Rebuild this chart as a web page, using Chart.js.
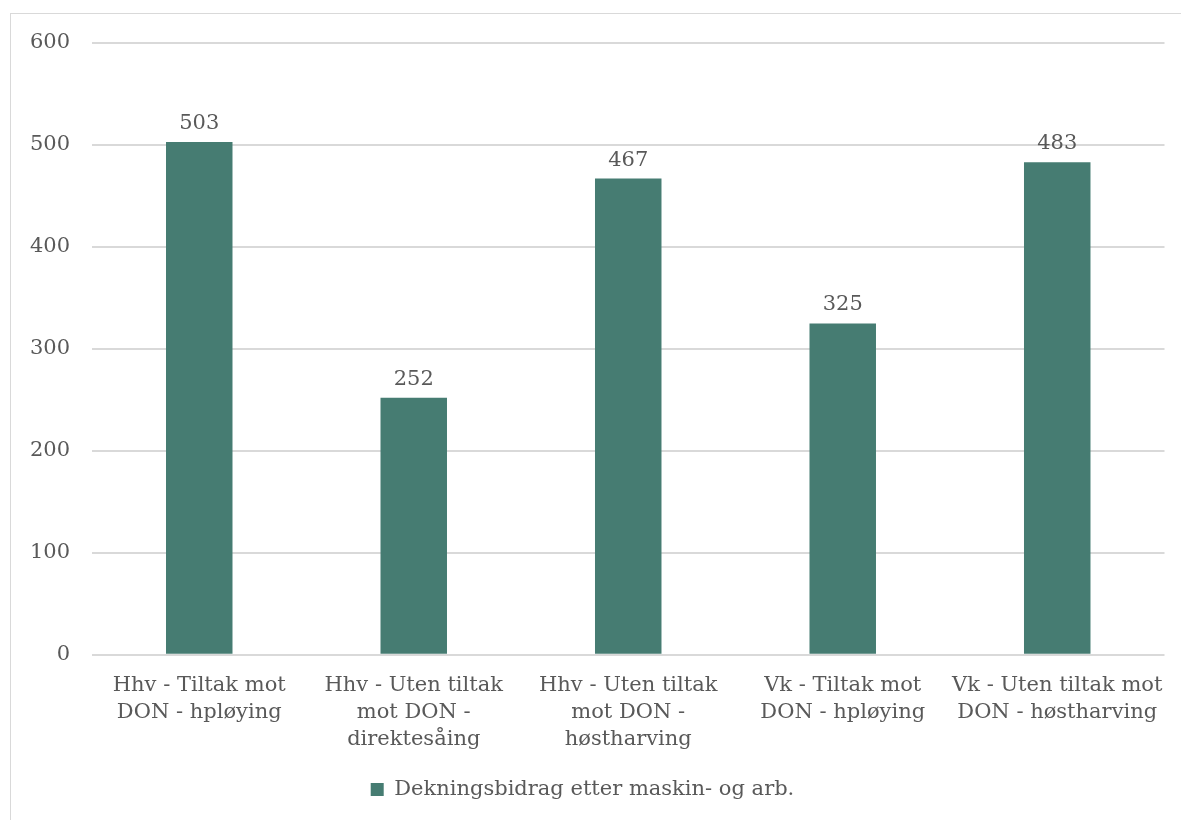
<!DOCTYPE html>
<html>
<head>
<meta charset="utf-8">
<script src="https://cdn.jsdelivr.net/npm/chart.js@4/dist/chart.umd.min.js"></script>
<style>
  html, body { margin: 0; padding: 0; background: #ffffff; overflow: hidden; }
  #frame { position: absolute; left: 10px; top: 13px; width: 1300px; height: 1000px;
           border: 1px solid #D9D9D9; box-sizing: border-box; }
  #wrap { position: absolute; left: 0; top: 0; width: 1181px; height: 820px; }
</style>
</head>
<body>
<div id="frame"></div>
<div id="wrap"><canvas id="chart" width="1181" height="820"></canvas></div>
<script>
// Categories (multi-line axis labels)
const categories = [
  ["Hhv - Tiltak mot", "DON - hpløying"],
  ["Hhv - Uten tiltak", "mot DON -", "direktesåing"],
  ["Hhv - Uten tiltak", "mot DON -", "høstharving"],
  ["Vk - Tiltak mot", "DON - hpløying"],
  ["Vk - Uten tiltak mot", "DON - høstharving"]
];
const seriesName = "Dekningsbidrag etter maskin- og arb.";
const values = [503, 252, 467, 325, 483];
const yTicks = [0, 100, 200, 300, 400, 500, 600];

const FONT = "'DejaVu Serif', 'Liberation Serif', serif";
const TEXT = "#595959";
const BAR = "#467C72";
const SIZE = 21;

// Writes each bar's value just above it
const valueLabels = {
  id: "valueLabels",
  afterDatasetsDraw(chart) {
    const ctx = chart.ctx;
    const meta = chart.getDatasetMeta(0);
    ctx.save();
    ctx.fillStyle = TEXT;
    ctx.font = SIZE + "px " + FONT;
    ctx.textAlign = "center";
    ctx.textBaseline = "bottom";
    meta.data.forEach((bar, i) => {
      ctx.fillText(String(values[i]), bar.x, bar.y - 8);
    });
    ctx.restore();
  }
};

new Chart(document.getElementById("chart"), {
  type: "bar",
  data: {
    labels: categories,
    datasets: [{
      label: seriesName,
      data: values,
      backgroundColor: BAR,
      borderWidth: 0,
      barPercentage: 0.62,
      categoryPercentage: 0.5
    }]
  },
  options: {
    responsive: false,
    animation: false,
    layout: { padding: { top: 43, right: 16, left: 0, bottom: 10 } },
    plugins: {
      legend: {
        position: "bottom",
        labels: {
          color: TEXT,
          font: { family: FONT, size: SIZE },
          boxWidth: 13,
          boxHeight: 13,
          padding: 9
        }
      },
      tooltip: { enabled: false }
    },
    scales: {
      x: {
        grid: { display: false, drawTicks: false },
        border: { display: false },
        ticks: {
          color: TEXT,
          font: { family: FONT, size: SIZE, lineHeight: 1.29 },
          padding: 17,
          maxRotation: 0,
          autoSkip: false
        }
      },
      y: {
        min: 0,
        max: 600,
        afterFit(scale) { scale.width = 92; },
        afterBuildTicks(scale) { scale.ticks = yTicks.map(v => ({ value: v })); },
        grid: { color: "#D9D9D9", lineWidth: 2, drawTicks: false },
        border: { display: false },
        ticks: {
          color: TEXT,
          font: { family: FONT, size: SIZE },
          padding: 22
        }
      }
    }
  },
  plugins: [valueLabels]
});
</script>
</body>
</html>
